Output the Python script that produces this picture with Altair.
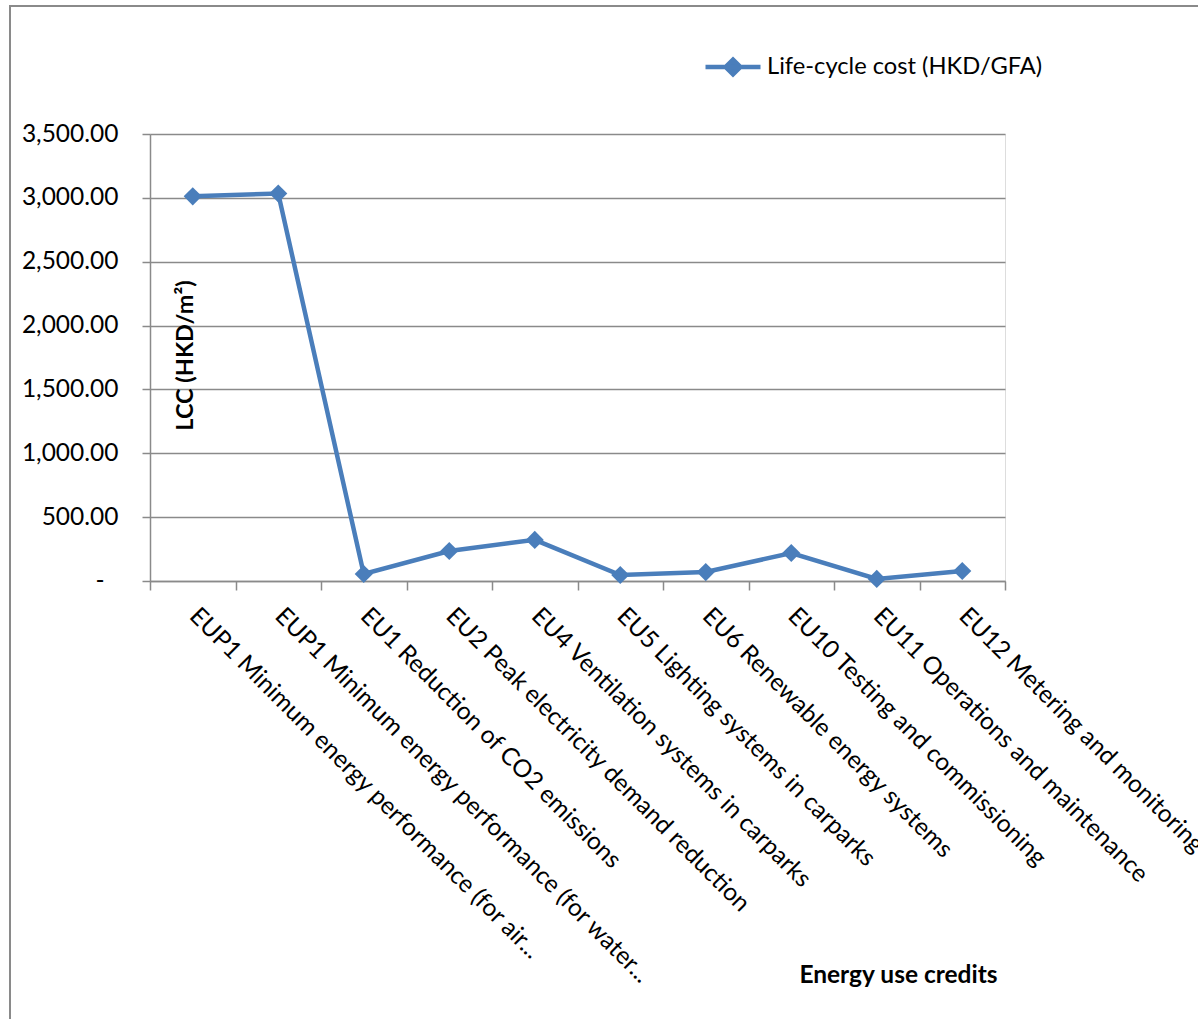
import altair as alt
import pandas as pd

categories = [
    "EUP1 Minimum energy performance (for air...",
    "EUP1 Minimum energy performance (for water...",
    "EU1 Reduction of CO2 emissions",
    "EU2 Peak electricity demand reduction",
    "EU4 Ventilation systems in carparks",
    "EU5 Lighting systems in carparks",
    "EU6 Renewable energy systems",
    "EU10 Testing and commissioning",
    "EU11 Operations and maintenance",
    "EU12 Metering and monitoring",
]
lcc_values = [3012, 3034, 55, 235, 322, 47, 70, 219, 16, 78]
series_name = "Life-cycle cost (HKD/GFA)"
y_ticks = [0, 500, 1000, 1500, 2000, 2500, 3000, 3500]

df = pd.DataFrame({
    "credit": categories,
    "lcc": lcc_values,
    "series": [series_name] * len(categories),
})

BLUE = "#4A7EBB"
GRID = "#8a8a8a"
FONT = "Lato"

x_enc = alt.X(
    "credit:N",
    sort=categories,
    scale=alt.Scale(type="band", paddingInner=0, paddingOuter=0),
    axis=alt.Axis(
        title="Energy use credits",
        titleFont=FONT, titleFontSize=24.5, titleFontWeight="bold", titleColor="black",
        titleX=748, titleY=394, titleAlign="center", titleBaseline="middle",
        labelAngle=45, labelAlign="left", labelBaseline="middle",
        labelFont=FONT, labelFontSize=24.5, labelColor="black",
        labelPadding=22, labelLimit=2000, labelOverlap=False,
        tickBand="extent", ticks=True, tickSize=9, tickColor=GRID, tickWidth=1.5,
        domainColor=GRID, domainWidth=1.5, grid=False,
    ),
)
y_enc = alt.Y(
    "lcc:Q",
    scale=alt.Scale(domain=[0, 3500], nice=False, zero=True),
    axis=alt.Axis(
        values=y_ticks,
        labelExpr="datum.value == 0 ? '-' : format(datum.value, ',.2f')",
        labelFont=FONT, labelFontSize=24.5, labelColor="black",
        labelPadding={"condition": {"test": "datum.value == 0", "value": 38}, "value": 24},
        title="LCC (HKD/m\u00b2)",
        titleFont=FONT, titleFontSize=23.5, titleFontWeight="bold", titleColor="black",
        titleX=35, titleY=221, titleAngle=270, titleAlign="center", titleBaseline="middle",
        grid=True, gridColor=GRID, gridWidth=1.5,
        tickSize=8, tickColor=GRID, tickWidth=1.5,
        domainColor=GRID, domainWidth=1.5,
    ),
)

frame = alt.Chart(pd.DataFrame({"a": [0]})).mark_rect(
    fill=None, stroke="#8a8a8a", strokeWidth=2
).encode(
    x=alt.value(-140), y=alt.value(-128), x2=alt.value(1060), y2=alt.value(900)
)

line = alt.Chart(df).mark_line(strokeWidth=4.5, color=BLUE).encode(
    x=x_enc, y=y_enc
)

points = alt.Chart(df).mark_point(
    shape="diamond", filled=True, size=330, opacity=1
).encode(
    x=x_enc, y=y_enc,
    color=alt.Color(
        "series:N",
        scale=alt.Scale(range=[BLUE]),
        legend=alt.Legend(
            title=None, orient="none", legendX=553, legendY=-97,
            symbolType="M-1,0L1,0M0,-0.27L0.27,0L0,0.27L-0.27,0Z",
            symbolSize=3025, symbolStrokeWidth=4.5,
            symbolStrokeColor=BLUE, symbolFillColor=BLUE,
            labelFont=FONT, labelFontSize=23.7, labelColor="black",
            labelOffset=4, labelLimit=1000,
        ),
    ),
)

chart = alt.layer(frame, line, points).properties(
    width=855, height=447,
    autosize=alt.AutoSizeParams(type="none"),
    padding={"left": 150, "top": 134, "right": 193, "bottom": 438},
).configure_view(stroke=None).configure(background="white")

chart.save("out.html", embed_options={"renderer": "svg", "actions": False})
